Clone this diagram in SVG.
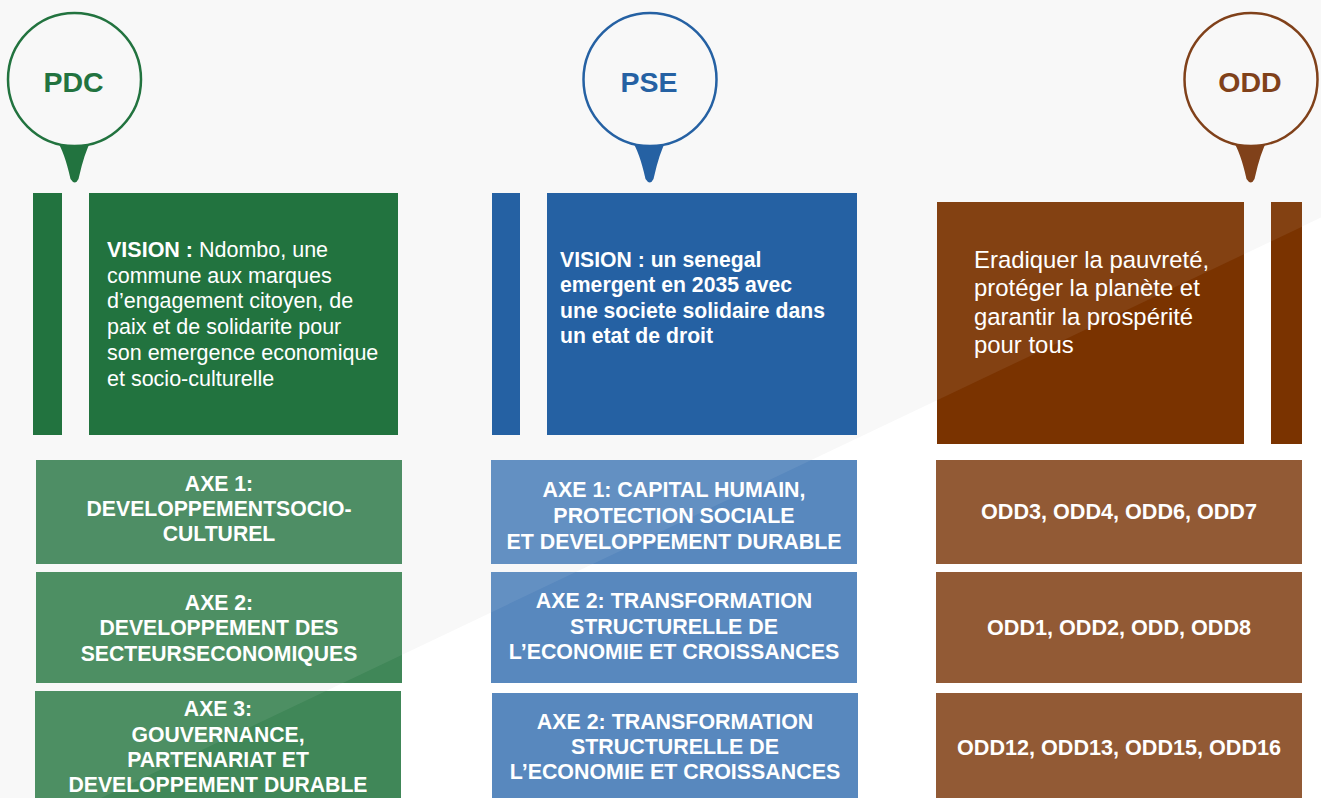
<svg xmlns="http://www.w3.org/2000/svg" xmlns:xlink="http://www.w3.org/1999/xlink" width="1321" height="798" viewBox="0 0 1321 798">
<defs>
<style>
text{font-family:"Liberation Sans",Arial,Helvetica,sans-serif;fill:#ffffff}
.head{font-size:28.5px;font-weight:bold;text-anchor:middle}
.ring{fill:#f8f8f8;stroke-width:2.5}
.vis{font-size:21.5px}
.visb{font-size:21.2px;font-weight:bold}
.viso{font-size:23.9px}
.b{font-weight:bold}
.axe{font-size:21.2px;font-weight:bold;text-anchor:middle}
.axe2{font-size:21.4px;font-weight:bold;text-anchor:middle}
.axe3{font-size:21.6px;font-weight:bold;text-anchor:middle}
.g{fill:#22733f}.ga{fill:#408758}.ga1{fill:#4e8e65}
.bl{fill:#2561a3}.bla{fill:#5888be}
.br{fill:#7a3300}.bra{fill:#925a35}.brp{fill:#80411a}
</style>
<clipPath id="cross">
<use xlink:href="#odd-vis-box"/>
<use xlink:href="#odd-bar"/>
<use xlink:href="#pdc-a2-box"/>
<use xlink:href="#pdc-a3-box"/>
<use xlink:href="#pse-a1-box"/>
<use xlink:href="#pse-a2-box"/>
</clipPath>
</defs>
<rect x="0" y="0" width="1321" height="798" fill="#ffffff"/>
<polygon id="sheen-bg" points="0,0 1321,0 1321,217.6 101,798 0,798" fill="#f8f8f8"/>

<g id="connectors"></g>

<g id="pdc-head">
<path class="g" transform="translate(73.5,0)" d="M -17,140 L 18,140 Q 11,152 5,179 Q 1.5,186 -3,179 Q -9,152 -17,140 Z"/>
<circle class="ring" cx="74.5" cy="79.5" r="66.5" stroke="#22733f"/>
<text class="head" x="73.5" y="91.5" style="fill:#22733f">PDC</text>
</g>
<g id="pse-head">
<path class="bl" transform="translate(648.5,0)" d="M -17,140 L 18,140 Q 11,152 5,179 Q 1.5,186 -3,179 Q -9,152 -17,140 Z"/>
<circle class="ring" cx="650" cy="79.5" r="66.5" stroke="#2561a3"/>
<text class="head" x="649" y="91.5" style="fill:#2561a3">PSE</text>
</g>
<g id="odd-head">
<path class="brp" transform="translate(1249.5,0)" d="M -17,140 L 18,140 Q 11,152 5,179 Q 1.5,186 -3,179 Q -9,152 -17,140 Z"/>
<circle class="ring" cx="1251" cy="79.5" r="66.5" stroke="#80411a"/>
<text class="head" x="1250" y="91.5" style="fill:#80411a">ODD</text>
</g>

<g id="pdc-vision">
<rect class="g" x="33" y="193" width="29" height="242"/>
<rect class="g" x="89" y="193" width="309" height="242"/>
<text class="vis" x="107">
<tspan x="107" y="257"><tspan class="b">VISION :</tspan> Ndombo, une</tspan>
<tspan x="107" y="282.7">commune aux marques</tspan>
<tspan x="107" y="308.4">d’engagement citoyen, de</tspan>
<tspan x="107" y="334.1">paix et de solidarite pour</tspan>
<tspan x="107" y="359.8">son emergence economique</tspan>
<tspan x="107" y="385.5">et socio-culturelle</tspan>
</text>
</g>
<g id="pse-vision">
<rect class="bl" x="492" y="193" width="28" height="242"/>
<rect class="bl" x="547" y="193" width="310" height="242"/>
<text class="visb" x="560">
<tspan x="560" y="266.5">VISION : un senegal</tspan>
<tspan x="560" y="292">emergent en 2035 avec</tspan>
<tspan x="560" y="317.5">une societe solidaire dans</tspan>
<tspan x="560" y="343">un etat de droit</tspan>
</text>
</g>
<g id="odd-vision">
<rect id="odd-vis-box" class="br" x="937" y="202" width="307" height="242"/>
<rect id="odd-bar" class="br" x="1271" y="202" width="31" height="242"/>
</g>

<g id="pdc-axe1">
<rect class="ga1" x="36" y="460" width="366" height="104"/>
<text class="axe"><tspan x="219" y="490.7">AXE 1:</tspan><tspan x="219" y="516">DEVELOPPEMENTSOCIO-</tspan><tspan x="219" y="541.3">CULTUREL</tspan></text>
</g>
<g id="pdc-axe2">
<rect id="pdc-a2-box" class="ga" x="36" y="572" width="366" height="111"/>
</g>
<g id="pdc-axe3">
<rect id="pdc-a3-box" class="ga" x="35" y="691" width="366" height="107"/>
</g>
<g id="pse-axe1">
<rect id="pse-a1-box" class="bla" x="491" y="460" width="366" height="104"/>
</g>
<g id="pse-axe2">
<rect id="pse-a2-box" class="bla" x="491" y="572" width="366" height="111"/>
</g>
<g id="pse-axe3">
<rect class="bla" x="492" y="693" width="366" height="105"/>
<text class="axe2"><tspan x="675" y="728.7">AXE 2: TRANSFORMATION</tspan><tspan x="675" y="754">STRUCTURELLE DE</tspan><tspan x="675" y="779.3">L’ECONOMIE ET CROISSANCES</tspan></text>
</g>
<g id="odd-axe1">
<rect class="bra" x="936" y="460" width="366" height="104"/>
<text class="axe3" x="1119" y="519">ODD3, ODD4, ODD6, ODD7</text>
</g>
<g id="odd-axe2">
<rect class="bra" x="936" y="572" width="366" height="111"/>
<text class="axe3" x="1119" y="635">ODD1, ODD2, ODD, ODD8</text>
</g>
<g id="odd-axe3">
<rect class="bra" x="936" y="693" width="366" height="105"/>
<text class="axe3" x="1119" y="755">ODD12, ODD13, ODD15, ODD16</text>
</g>

<polygon id="sheen" points="0,0 1321,0 1321,217.6 101,798 0,798" fill="#ffffff" fill-opacity="0.07" clip-path="url(#cross)"/>

<g id="labels-over-sheen">
<text class="viso"><tspan x="974" y="268">Eradiquer la pauvreté,</tspan><tspan x="974" y="296.3">protéger la planète et</tspan><tspan x="974" y="324.6">garantir la prospérité</tspan><tspan x="974" y="353">pour tous</tspan></text>
<text class="axe"><tspan x="219" y="610">AXE 2:</tspan><tspan x="219" y="635">DEVELOPPEMENT DES</tspan><tspan x="219" y="660.5">SECTEURSECONOMIQUES</tspan></text>
<text class="axe"><tspan x="218" y="716">AXE 3:</tspan><tspan x="218" y="741.5">GOUVERNANCE,</tspan><tspan x="218" y="767">PARTENARIAT ET</tspan><tspan x="218" y="792.3">DEVELOPPEMENT DURABLE</tspan></text>
<text class="axe2"><tspan x="674" y="496.7">AXE 1: CAPITAL HUMAIN,</tspan><tspan x="674" y="522.7">PROTECTION SOCIALE</tspan><tspan x="674" y="548.7">ET DEVELOPPEMENT DURABLE</tspan></text>
<text class="axe2"><tspan x="674" y="608.3">AXE 2: TRANSFORMATION</tspan><tspan x="674" y="633.5">STRUCTURELLE DE</tspan><tspan x="674" y="659">L’ECONOMIE ET CROISSANCES</tspan></text>
</g>
</svg>
